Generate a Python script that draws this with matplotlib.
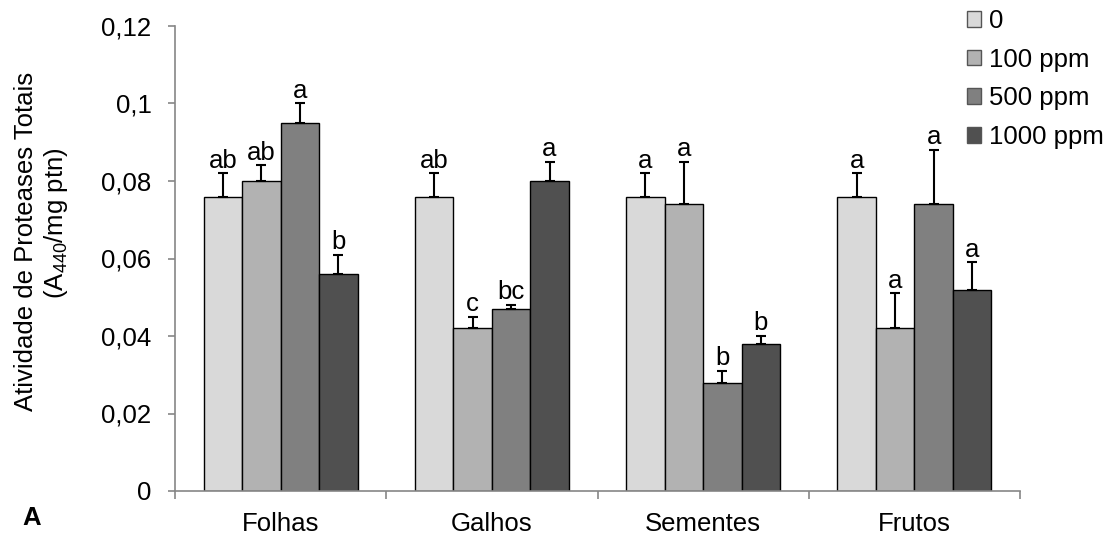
import numpy as np
import matplotlib.pyplot as plt

plt.rcParams['font.family'] = ['Liberation Sans', 'DejaVu Sans']
plt.rcParams['font.size'] = 18.5

# dados
categorias = ['Folhas', 'Galhos', 'Sementes', 'Frutos']
doses = ['0', '100 ppm', '500 ppm', '1000 ppm']
cores = ['#d9d9d9', '#b2b2b2', '#808080', '#505050']

medias = [
    [0.076, 0.076, 0.076, 0.076],   # 0
    [0.080, 0.042, 0.074, 0.042],   # 100 ppm
    [0.095, 0.047, 0.028, 0.074],   # 500 ppm
    [0.056, 0.080, 0.038, 0.052],   # 1000 ppm
]
erros = [
    [0.006, 0.006, 0.006, 0.006],
    [0.004, 0.003, 0.011, 0.009],
    [0.005, 0.001, 0.003, 0.014],
    [0.005, 0.005, 0.002, 0.007],
]
letras = [
    ['ab', 'ab', 'a', 'a'],
    ['ab', 'c', 'a', 'a'],
    ['a', 'bc', 'b', 'a'],
    ['b', 'a', 'b', 'a'],
]
ticks_y = [0, 0.02, 0.04, 0.06, 0.08, 0.1, 0.12]
rotulos_y = ['0', '0,02', '0,04', '0,06', '0,08', '0,1', '0,12']

W, H = 1119, 537
fig = plt.figure(figsize=(W/100, H/100), dpi=100)
ax = fig.add_axes([175/W, 46/H, 845/W, 465/H])

x = np.arange(len(categorias))
largura = 0.182
for i in range(len(doses)):
    pos = x + (i - 1.5) * largura
    ax.bar(pos, medias[i], largura, color=cores[i], edgecolor='black',
           linewidth=1, label=doses[i], zorder=2)
    ax.errorbar(pos, medias[i], yerr=[np.zeros(4), erros[i]], fmt='none',
                ecolor='black', elinewidth=1.5, capsize=3.3, capthick=1.5, zorder=3)
    # letras de significancia
    for xx, m, e, l in zip(pos, medias[i], erros[i], letras[i]):
        ax.annotate(l, (xx, m + e), xytext=(0, 4), textcoords='offset points',
                    ha='center', va='baseline', fontsize=18.5)

ax.set_xlim(-0.5, 3.5)
ax.set_ylim(0, 0.12)
ax.set_yticks(ticks_y)
ax.set_yticklabels(rotulos_y)
ax.set_xticks(np.arange(-0.5, 3.6, 1))
ax.set_xticklabels([])
ax.set_xticks(x, minor=True)
ax.set_xticklabels(categorias, minor=True)
ax.tick_params(axis='x', which='minor', length=0, pad=15)
ax.tick_params(axis='x', which='major', length=6, width=1.2, color='#868686')
ax.tick_params(axis='y', length=5, width=1.2, color='#868686', pad=12)

for s in ['top', 'right']:
    ax.spines[s].set_visible(False)
for s in ['left', 'bottom']:
    ax.spines[s].set_color('#868686')
    ax.spines[s].set_linewidth(1.2)

# titulo do eixo y em duas linhas
fig.text(33/W, 1 - 241/H, 'Atividade de Proteases Totais', rotation=90,
         rotation_mode='anchor', ha='center', va='baseline')
fig.text(63/W, 1 - 223/H, '(A$_{\\mathregular{440}}$/mg ptn)', rotation=90,
         rotation_mode='anchor', ha='center', va='baseline')
fig.text(22/W, 1 - 525/H, 'A', fontweight='bold', ha='left', va='baseline')

leg = fig.legend(loc='upper left', bbox_to_anchor=(967/W, 1 - 9/H), frameon=False,
                 handlelength=0.55, handleheight=0.55, handletextpad=0.3,
                 labelspacing=0.57, borderpad=0, borderaxespad=0)
for h in leg.legend_handles:
    h.set_edgecolor('#555555')
    h.set_linewidth(1)

fig.savefig('out.png', dpi=100)
